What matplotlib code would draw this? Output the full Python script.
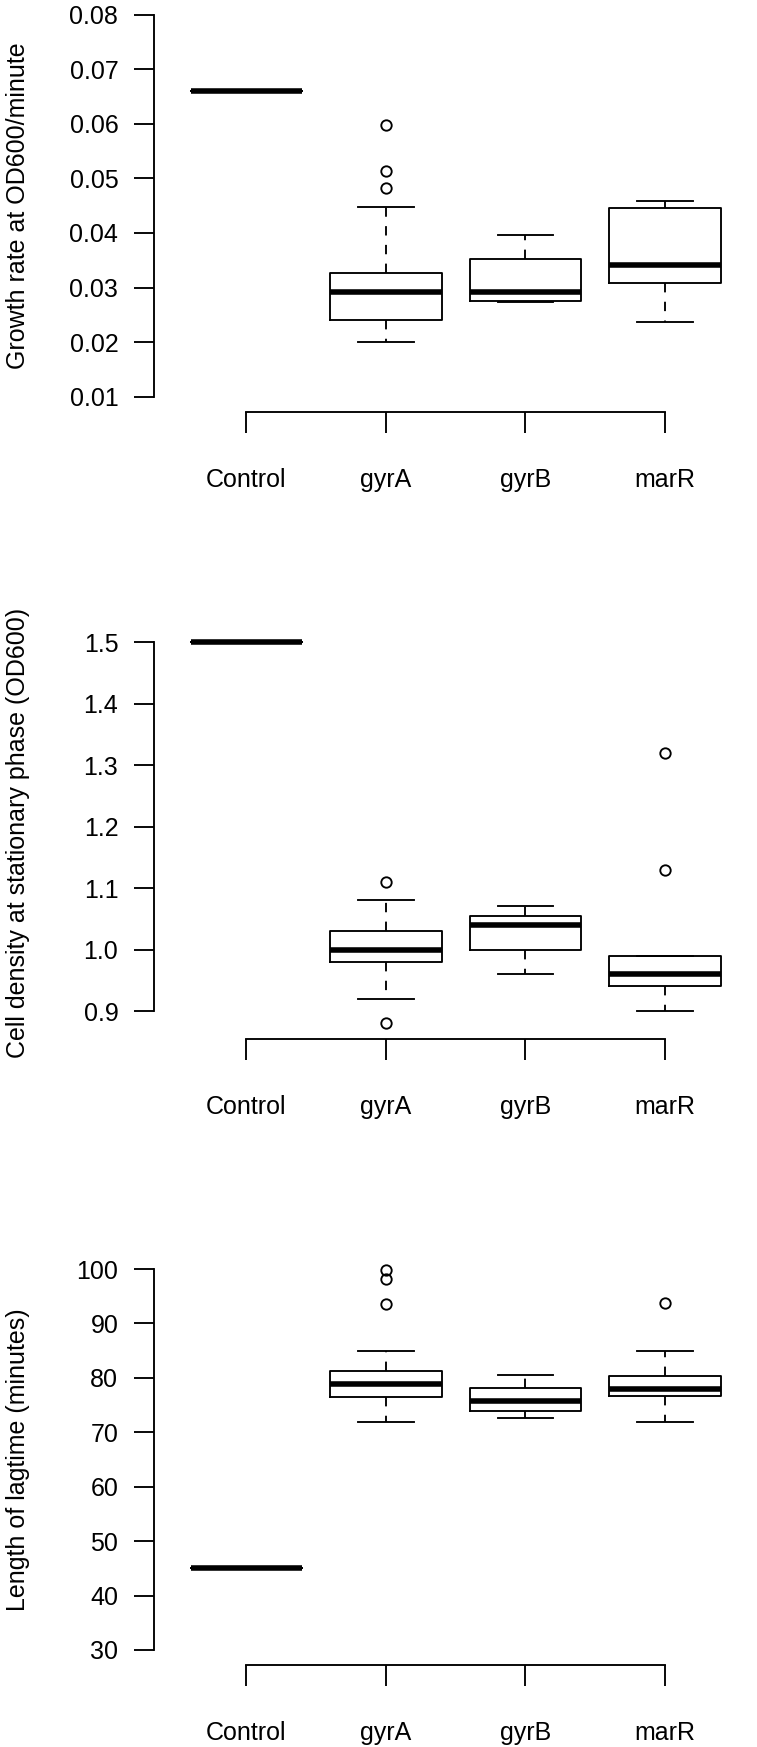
import matplotlib
matplotlib.use("Agg")
import matplotlib.pyplot as plt

plt.rcParams['font.family'] = ['Liberation Sans', 'DejaVu Sans']

groups = ['Control', 'gyrA', 'gyrB', 'marR']

# panel 1: growth rate
rate_med = [0.066, 0.0292, 0.0292, 0.0341]
rate_q1 = [0.066, 0.0241, 0.0275, 0.0308]
rate_q3 = [0.066, 0.0327, 0.0352, 0.0446]
rate_lo = [0.066, 0.0200, 0.0273, 0.0236]
rate_hi = [0.066, 0.0448, 0.0396, 0.0458]
rate_out = [[], [0.0597, 0.0514, 0.0483], [], []]
rate_ticks = [0.01, 0.02, 0.03, 0.04, 0.05, 0.06, 0.07, 0.08]
rate_labels = ['0.01', '0.02', '0.03', '0.04', '0.05', '0.06', '0.07', '0.08']

# panel 2: cell density at stationary phase
dens_med = [1.50, 1.00, 1.04, 0.96]
dens_q1 = [1.50, 0.98, 1.00, 0.94]
dens_q3 = [1.50, 1.03, 1.055, 0.99]
dens_lo = [1.50, 0.92, 0.96, 0.90]
dens_hi = [1.50, 1.08, 1.07, 0.99]
dens_out = [[], [1.11, 0.88], [], [1.32, 1.13]]
dens_ticks = [0.9, 1.0, 1.1, 1.2, 1.3, 1.4, 1.5]
dens_labels = ['0.9', '1.0', '1.1', '1.2', '1.3', '1.4', '1.5']

# panel 3: lag time
lag_med = [45.0, 78.9, 75.8, 78.0]
lag_q1 = [45.0, 76.5, 74.0, 76.7]
lag_q3 = [45.0, 81.2, 78.2, 80.3]
lag_lo = [45.0, 71.8, 72.6, 71.8]
lag_hi = [45.0, 84.9, 80.5, 84.9]
lag_out = [[], [99.8, 98.1, 93.6], [], [93.7]]
lag_ticks = [30, 40, 50, 60, 70, 80, 90, 100]
lag_labels = ['30', '40', '50', '60', '70', '80', '90', '100']

W, H = 757, 1747
LW = 1.35


def make_stats(med, q1, q3, lo, hi, out):
    stats = []
    for i in range(len(med)):
        stats.append(dict(med=med[i], q1=q1[i], q3=q3[i], whislo=lo[i],
                          whishi=hi[i], fliers=out[i]))
    return stats


def draw_panel(fig, top_px, bottom_px, stats, ticks, labels, lims, ylabel):
    ax = fig.add_axes([154.3 / W, 1 - bottom_px / H, 1 - 154.3 / W,
                       (bottom_px - top_px) / H])
    ax.bxp(stats, positions=[1, 2, 3, 4], widths=0.8,
           boxprops=dict(color='black', linewidth=LW),
           medianprops=dict(color='black', linewidth=4.0, solid_capstyle='butt'),
           whiskerprops=dict(color='black', linewidth=LW, linestyle=(0, (5, 5))),
           capprops=dict(color='black', linewidth=LW),
           flierprops=dict(marker='o', markerfacecolor='none',
                           markeredgecolor='black', markersize=7.5,
                           markeredgewidth=LW))
    # R-style 4% padding around the y range
    lo, hi = lims
    pad = 0.04 * (hi - lo)
    ax.set_ylim(lo - pad, hi + pad)
    ax.set_xlim(0.34, 4.66)

    ax.set_yticks(ticks, labels)
    ax.set_xticks([1, 2, 3, 4], groups)
    for s in ['top', 'right']:
        ax.spines[s].set_visible(False)
    ax.spines['left'].set_bounds(ticks[0], ticks[-1])
    ax.spines['bottom'].set_bounds(1, 4)
    ax.spines['left'].set_linewidth(LW)
    ax.spines['bottom'].set_linewidth(LW)
    ax.tick_params(axis='y', direction='out', length=14.4, width=LW,
                   pad=11.5, labelsize=18)
    ax.tick_params(axis='x', direction='out', length=15, width=LW,
                   pad=25.5, labelsize=18)
    ax.set_ylabel(ylabel, fontsize=18)
    ax.yaxis.set_label_coords(-0.207, 0.5)
    ax.patch.set_alpha(0)
    return ax


fig = plt.figure(figsize=(W / 100, H / 100), dpi=100)

draw_panel(fig, -0.6, 412.0,
           make_stats(rate_med, rate_q1, rate_q3, rate_lo, rate_hi, rate_out),
           rate_ticks, rate_labels, (0.01, 0.08),
           'Growth rate at OD600/minute')
draw_panel(fig, 626.8, 1038.6,
           make_stats(dens_med, dens_q1, dens_q3, dens_lo, dens_hi, dens_out),
           dens_ticks, dens_labels, (0.88, 1.50),
           'Cell density at stationary phase (OD600)')
draw_panel(fig, 1253.8, 1665.2,
           make_stats(lag_med, lag_q1, lag_q3, lag_lo, lag_hi, lag_out),
           lag_ticks, lag_labels, (30, 100),
           'Length of lagtime (minutes)')

fig.savefig('out.png', dpi=100)
